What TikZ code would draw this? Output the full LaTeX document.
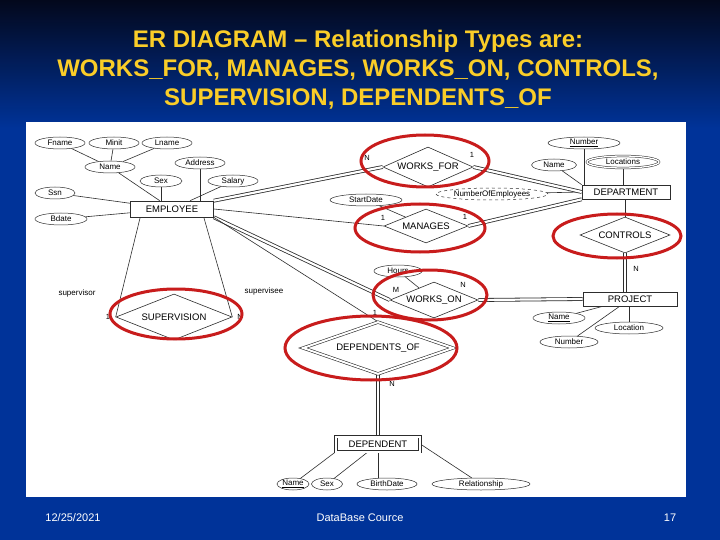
\documentclass[tikz,border=0pt]{standalone}
\usepackage{fontspec}
\setmainfont{Liberation Sans}
\usetikzlibrary{shapes,backgrounds}
\pgfdeclarelayer{slide}
\pgfsetlayers{slide,background,main}
\definecolor{slideblue}{RGB}{0,51,153}
\definecolor{slidetop}{RGB}{3,8,28}
\definecolor{titleyellow}{RGB}{250,205,40}
\definecolor{ringred}{RGB}{200,28,28}
\definecolor{inkgray}{RGB}{45,45,45}
\tikzset{
  entity/.style={draw=inkgray,line width=0.6pt,rectangle,inner sep=0pt,font=\fontsize{9.5}{10}\selectfont},
  attrib/.style={draw=inkgray,line width=0.5pt,ellipse,inner sep=0pt,minimum height=12pt,font=\fontsize{8}{9}\selectfont},
  relship/.style={draw=inkgray,line width=0.6pt,diamond,inner sep=0pt,aspect=2.2,font=\fontsize{9.5}{10}\selectfont},
  card/.style={inner sep=1pt,font=\fontsize{7.5}{8}\selectfont},
  ring/.style={draw=ringred,line width=3pt},
  total/.style={draw=inkgray,double,double distance=2.2pt,line width=0.8pt}
}
\newcommand{\entity}[6]{\node[entity,minimum width=#4pt,minimum height=#5pt] (#1) at (#2,#3) {#6};}
\newcommand{\relship}[6]{\node[relship,minimum width=#4pt,minimum height=#5pt] (#1) at (#2,#3) {#6};}
\newcommand{\attr}[5]{\node[attrib,minimum width=#4pt] (#1) at (#2,#3) {#5};}
\newcommand{\card}[4]{\node[card] (#1) at (#2,#3) {#4};}
\newcommand{\link}[2]{\draw[draw=inkgray,line width=0.6pt] (#1) -- (#2);}
\newcommand{\linkTotal}[2]{\draw[total] (#1) -- (#2);}
\newcommand{\ring}[4]{\draw[ring] (#1,#2) ellipse [x radius=#3pt, y radius=#4pt];}

\begin{document}
\begin{tikzpicture}[x=1pt,y=-1pt]
    \useasboundingbox (0,0) rectangle (720,540);
    \begin{pgfonlayer}{slide}
    \fill[slideblue] (0,0) rectangle (720,540);
    \shade[top color=slidetop,bottom color=slideblue] (0,0) rectangle (720,128);
    \fill[white] (26,122) rectangle (686,497);
    \end{pgfonlayer}
    \node[text=titleyellow,align=center,font=\fontsize{24}{29}\bfseries\selectfont] (title) at (358,70)
      {ER DIAGRAM -- Relationship Types are:\\WORKS\_FOR, MANAGES, WORKS\_ON, CONTROLS,\\SUPERVISION, DEPENDENTS\_OF};

    % entity types
    \entity{emp}{172}{209}{83}{16}{EMPLOYEE}
    \entity{dept}{626}{192}{88}{14}{DEPARTMENT}
    \entity{proj}{630}{299}{94}{14}{PROJECT}
    \node[entity,double,double distance=2pt,minimum width=84pt,minimum height=15pt] (dep) at (378,444) {DEPENDENT};

    % relationship types
    \relship{wf}{428}{167}{90}{40}{WORKS\_FOR}
    \relship{man}{426}{226}{84}{34}{MANAGES}
    \relship{ctl}{625}{235}{90}{36}{CONTROLS}
    \relship{won}{434}{300}{88}{36}{WORKS\_ON}
    \relship{sup}{174}{317}{116}{46}{SUPERVISION}
    \node[relship,double,double distance=2pt,minimum width=150pt,minimum height=52pt] (dof) at (378,348) {DEPENDENTS\_OF};

    % attributes
    \attr{fname}{60}{143}{50}{Fname}  \attr{minit}{114}{143}{50}{Minit}
    \attr{lname}{167}{143}{50}{Lname} \attr{ename}{110}{167}{50}{Name}
    \attr{addr}{200}{163}{50}{Address} \attr{esex}{161}{181}{42}{Sex}
    \attr{sal}{233}{181}{50}{Salary}  \attr{ssn}{55}{193}{40}{Ssn}
    \attr{bdate}{61}{219}{52}{Bdate}
    \attr{dnum}{584}{143}{72}{\underline{Number}} \attr{dname}{554}{165}{45}{Name}
    \node[attrib,double,double distance=1.3pt,minimum width=72pt] (dloc) at (623,162) {Locations};
    \node[attrib,dashed,minimum width=112pt] (nemp) at (492,194) {NumberOfEmployees};
    \attr{sdate}{366}{200}{72}{StartDate}
    \attr{hours}{398}{271}{48}{Hours}
    \attr{pname}{559}{318}{52}{\underline{Name}} \attr{ploc}{629}{328}{68}{Location}
    \attr{pnum}{569}{342}{58}{Number}
    \attr{dpname}{293}{484}{32}{\underline{Name}} \attr{dpsex}{327}{484}{31}{Sex}
    \attr{bdt}{387}{484}{60}{BirthDate} \attr{rel}{481}{484}{98}{Relationship}

    \begin{pgfonlayer}{background}
    % attribute links
    \link{fname}{ename} \link{minit}{ename} \link{lname}{ename} \link{ename}{emp}
    \link{esex}{esex |- emp.north} \link{addr}{addr |- emp.north}
    \link{sal}{emp} \link{ssn}{emp} \link{bdate}{emp}
    \link{dnum}{dnum |- dept.north} \link{dname}{dept.north west}
    \link{dloc}{dloc |- dept.north} \link{nemp}{dept.west}
    \link{sdate}{man} \link{hours}{won}
    \link{pname}{proj} \link{ploc}{ploc |- proj.south} \link{pnum}{proj}
    \link{dpname}{dep.south west} \link{dpsex}{dep}
    \link{bdt.north -| dep.south}{dep.south} \link{rel}{dep.east}

    % relationship links
    \linkTotal{emp.north east}{wf.west} \linkTotal{wf.east}{dept.west}
    \link{emp.east}{man.west} \linkTotal{man.east}{dept.south west}
    \link{ctl.north}{ctl.north |- dept.south} \linkTotal{ctl.south}{ctl.south |- proj.north}
    \linkTotal{emp.south east}{won.west} \linkTotal{won.east}{proj.west}
    \link{emp.south east}{dof.north} \linkTotal{dof.south}{dep.north}
    \link{[xshift=10pt]emp.south west}{sup.west} \link{[xshift=-10pt]emp.south east}{sup.east}
    \end{pgfonlayer}

    % cardinalities and roles
    \card{c1}{367}{158}{N} \card{c2}{472}{155}{1}
    \card{c3}{383}{218}{1} \card{c4}{465}{217}{1}
    \card{c5}{636}{269}{N}
    \card{c6}{396}{290}{M} \card{c7}{463}{285}{N}
    \card{c8}{375}{313}{1} \card{c9}{392}{384}{N}
    \card{c10}{108}{317}{1} \card{c11}{240}{317}{N}
    \node[card,font=\fontsize{8}{9}\selectfont] (rsup) at (77,293) {supervisor};
    \node[card,font=\fontsize{8}{9}\selectfont] (rsee) at (264,291) {supervisee};

    % highlighted relationship types
    \ring{425}{161}{64}{26} \ring{420}{228}{65}{24}
    \ring{617}{236}{64}{22} \ring{430}{295}{57}{25}
    \ring{176}{314}{66}{25} \ring{371}{348}{86}{32}

    % footer
    \node[text=white,font=\fontsize{11}{12}\selectfont] (date) at (73,518) {12/25/2021};
    \node[text=white,font=\fontsize{11}{12}\selectfont] (course) at (360,518) {DataBase Cource};
    \node[text=white,font=\fontsize{11}{12}\selectfont] (page) at (670,518) {17};
\end{tikzpicture}
\end{document}
